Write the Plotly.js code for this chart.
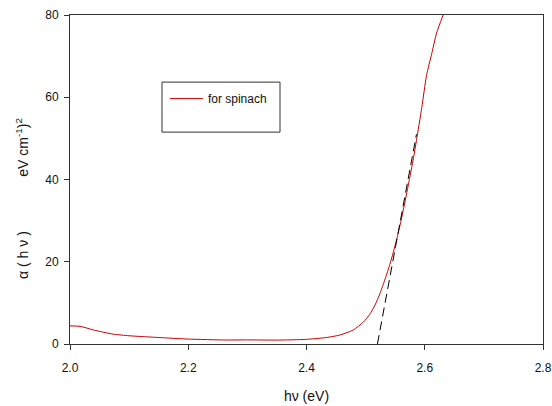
<!DOCTYPE html>
<html>
<head>
<meta charset="utf-8">
<script src="https://cdn.plot.ly/plotly-3.0.1.min.js"></script>
<style>
  html, body { margin: 0; padding: 0; background: #fff; }
  #chart { width: 552px; height: 406px; }
</style>
</head>
<body>
<div id="chart"></div>
<script>
// Tauc plot: photon energy (eV) vs (alpha h nu)^2
const energy = [2.000, 2.017, 2.040, 2.073, 2.100, 2.123, 2.160, 2.200, 2.265, 2.300, 2.350, 2.400,
                2.435, 2.457, 2.479, 2.496, 2.507, 2.516, 2.524, 2.533, 2.541, 2.547, 2.553,
                2.561, 2.572, 2.581, 2.586, 2.595, 2.603, 2.612, 2.620, 2.631];
const absorbSq = [4.4, 4.3, 3.4, 2.4, 2.0, 1.8, 1.5, 1.2, 0.97, 1.0, 0.95, 1.13,
                  1.6, 2.2, 3.4, 5.3, 7.2, 9.5, 12.2, 15.8, 19.4, 22.4, 25.7,
                  30.7, 38.5, 45.3, 49.5, 57.5, 65.3, 70.7, 75.6, 80.0];

// Linear extrapolation of the absorption edge down to the energy axis
const fitEnergy = [2.520, 2.586];
const fitValue = [0, 51];

const xTicks = [2.0, 2.2, 2.4, 2.6, 2.8];
const yTicks = [0, 20, 40, 60, 80];

const seriesName = 'for spinach';
const xTitle = 'hν (eV)';
const yTitle = 'α ( h ν )' + '\u00a0'.repeat(14) + 'eV cm<sup>-1</sup>)<sup>2</sup>';

const font = 'Liberation Sans, Arial, sans-serif';

const traces = [
  {
    x: energy, y: absorbSq, type: 'scatter', mode: 'lines', name: seriesName,
    line: { color: '#cc0000', width: 1, shape: 'spline', smoothing: 0.6 }
  },
  {
    x: fitEnergy, y: fitValue, type: 'scatter', mode: 'lines', showlegend: false,
    line: { color: '#000000', width: 1, dash: '9px,5px' }
  }
];

const axisCommon = {
  showgrid: false, zeroline: false, showline: true, linecolor: '#333', linewidth: 1,
  mirror: true, ticks: 'outside', ticklen: 5, tickwidth: 1, tickcolor: '#333',
  tickfont: { family: font, size: 12, color: '#111' }
};

const layout = {
  width: 552, height: 406,
  margin: { l: 70, r: 9, t: 15, b: 62 },
  paper_bgcolor: '#fff', plot_bgcolor: '#fff',
  font: { family: font, color: '#111' },
  xaxis: Object.assign({}, axisCommon, {
    range: [2.0, 2.8], tickvals: xTicks, tickformat: '.1f', ticklabelstandoff: 8,
    title: { text: xTitle, font: { family: font, size: 14, color: '#111' }, standoff: 16 }
  }),
  yaxis: Object.assign({}, axisCommon, {
    range: [0, 80], tickvals: yTicks, ticklabelstandoff: 3
  }),
  // y-axis caption, set as a rotated annotation left of the tick labels
  annotations: [{
    text: yTitle, xref: 'paper', yref: 'paper', x: -0.1015, y: 0.444,
    xanchor: 'center', yanchor: 'middle', textangle: -90, showarrow: false,
    font: { family: font, size: 14, color: '#111' }
  }],
  showlegend: true,
  legend: {
    x: 0.2006, y: 0.79, xanchor: 'left', yanchor: 'top', itemwidth: 33,
    bgcolor: 'rgba(0,0,0,0)', borderwidth: 0,
    font: { family: font, size: 12, color: '#111' }
  },
  shapes: [{
    type: 'rect', xref: 'paper', yref: 'paper',
    x0: 0.1945, x1: 0.444, y0: 0.644, y1: 0.796,
    line: { color: '#333', width: 1 }, fillcolor: 'rgba(0,0,0,0)'
  }]
};

Plotly.newPlot('chart', traces, layout, { staticPlot: true, displayModeBar: false });
</script>
</body>
</html>
